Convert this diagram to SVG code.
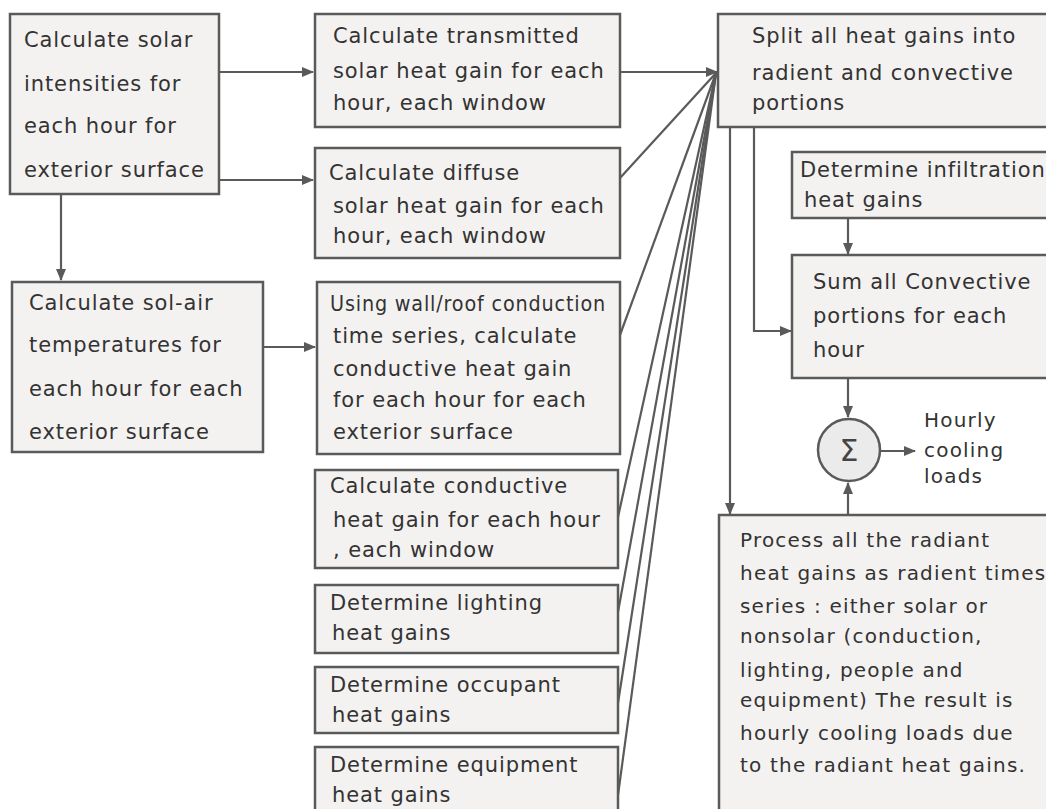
<svg xmlns="http://www.w3.org/2000/svg" width="1046" height="809" viewBox="0 0 1046 809">
<style>
.box{fill:#f4f2f1;stroke:#5a5a5a;stroke-width:2.5}
.t{font-family:"DejaVu Sans",sans-serif;font-size:21px;fill:#333333;letter-spacing:0.9px}
.s{font-size:20px;letter-spacing:1.2px}
.ln{stroke:#5a5a5a;stroke-width:2.2;fill:none}
</style>
<defs>
<marker id="ah" markerUnits="userSpaceOnUse" markerWidth="12" markerHeight="10" refX="11" refY="5" orient="auto">
<path d="M0,0 L12,5 L0,10 Z" fill="#5a5a5a"/>
</marker>
</defs>
<rect width="1046" height="809" fill="#ffffff"/>

<g id="connectors">
<line class="ln" x1="219" y1="72" x2="313" y2="72" marker-end="url(#ah)"/>
<line class="ln" x1="219" y1="180" x2="313" y2="180" marker-end="url(#ah)"/>
<line class="ln" x1="61" y1="194" x2="61" y2="280" marker-end="url(#ah)"/>
<line class="ln" x1="263" y1="347" x2="315" y2="347" marker-end="url(#ah)"/>
<line class="ln" x1="620" y1="72" x2="717" y2="72" marker-end="url(#ah)"/>
<line class="ln" x1="620" y1="178" x2="716" y2="73"/>
<line class="ln" x1="620" y1="335" x2="716" y2="73"/>
<line class="ln" x1="618" y1="517" x2="716" y2="73"/>
<line class="ln" x1="618" y1="612" x2="716" y2="73"/>
<line class="ln" x1="618" y1="703" x2="716" y2="73"/>
<line class="ln" x1="618" y1="795" x2="716" y2="73"/>
<line class="ln" x1="730" y1="127" x2="730" y2="514" marker-end="url(#ah)"/>
<polyline class="ln" points="754,127 754,331 791,331" marker-end="url(#ah)"/>
<line class="ln" x1="848" y1="218" x2="848" y2="254" marker-end="url(#ah)"/>
<line class="ln" x1="848" y1="378" x2="848" y2="417" marker-end="url(#ah)"/>
<line class="ln" x1="848" y1="515" x2="848" y2="483" marker-end="url(#ah)"/>
<line class="ln" x1="881" y1="451" x2="915" y2="451" marker-end="url(#ah)"/>
</g>

<g id="solar-intensities">
<rect class="box" x="10" y="14" width="209" height="180"/>
<text class="t" x="24" y="47">Calculate solar</text>
<text class="t" x="24" y="91">intensities for</text>
<text class="t" x="24" y="133">each hour for</text>
<text class="t" x="24" y="177">exterior surface</text>
</g>

<g id="sol-air">
<rect class="box" x="12" y="282" width="251" height="170"/>
<text class="t" x="29" y="310">Calculate sol-air</text>
<text class="t" x="29" y="352">temperatures for</text>
<text class="t" x="29" y="396">each hour for each</text>
<text class="t" x="29" y="439">exterior surface</text>
</g>

<g id="transmitted">
<rect class="box" x="315" y="14" width="305" height="113"/>
<text class="t" x="333" y="43">Calculate transmitted</text>
<text class="t" x="333" y="78">solar heat gain for each</text>
<text class="t" x="333" y="110">hour, each window</text>
</g>

<g id="diffuse">
<rect class="box" x="315" y="148" width="305" height="110"/>
<text class="t" x="329" y="180">Calculate diffuse</text>
<text class="t" x="333" y="213">solar heat gain for each</text>
<text class="t" x="333" y="243">hour, each window</text>
</g>

<g id="wall-roof">
<rect class="box" x="317" y="282" width="303" height="172"/>
<text class="t" x="330" y="311" textLength="276" lengthAdjust="spacingAndGlyphs">Using wall/roof conduction</text>
<text class="t" x="333" y="343">time series, calculate</text>
<text class="t" x="333" y="376">conductive heat gain</text>
<text class="t" x="333" y="407">for each hour for each</text>
<text class="t" x="333" y="439">exterior surface</text>
</g>

<g id="conductive-window">
<rect class="box" x="315" y="470" width="303" height="98"/>
<text class="t" x="330" y="493">Calculate conductive</text>
<text class="t" x="333" y="527">heat gain for each hour</text>
<text class="t" x="333" y="557">, each window</text>
</g>

<g id="lighting">
<rect class="box" x="315" y="585" width="303" height="68"/>
<text class="t" x="330" y="610">Determine lighting</text>
<text class="t" x="332" y="640">heat gains</text>
</g>

<g id="occupant">
<rect class="box" x="315" y="667" width="303" height="66"/>
<text class="t" x="330" y="692">Determine occupant</text>
<text class="t" x="332" y="722">heat gains</text>
</g>

<g id="equipment">
<rect class="box" x="315" y="747" width="303" height="70"/>
<text class="t" x="330" y="772">Determine equipment</text>
<text class="t" x="332" y="802">heat gains</text>
</g>

<g id="split">
<rect class="box" x="718" y="14" width="340" height="113"/>
<text class="t" x="752" y="43">Split all heat gains into</text>
<text class="t" x="752" y="80">radient and convective</text>
<text class="t" x="752" y="110">portions</text>
</g>

<g id="infiltration">
<rect class="box" x="792" y="152" width="260" height="66"/>
<text class="t" x="800" y="177">Determine infiltration</text>
<text class="t" x="804" y="207">heat gains</text>
</g>

<g id="sum-convective">
<rect class="box" x="792" y="255" width="260" height="123"/>
<text class="t" x="813" y="289">Sum all Convective</text>
<text class="t" x="813" y="323">portions for each</text>
<text class="t" x="813" y="357">hour</text>
</g>

<g id="sigma">
<circle cx="849" cy="450" r="31" fill="#ebebeb" stroke="#5a5a5a" stroke-width="2.5"/>
<text x="849" y="461" text-anchor="middle" font-family="DejaVu Sans, sans-serif" font-size="30" fill="#444">Σ</text>
</g>

<g id="hourly-label">
<text class="t s" x="924" y="427">Hourly</text>
<text class="t s" x="924" y="457">cooling</text>
<text class="t s" x="924" y="483">loads</text>
</g>

<g id="radiant">
<rect class="box" x="719" y="515" width="340" height="300"/>
<text class="t s" x="740" y="547">Process all the radiant</text>
<text class="t s" x="740" y="580">heat gains as radient times</text>
<text class="t s" x="740" y="613">series : either solar or</text>
<text class="t s" x="740" y="643">nonsolar (conduction,</text>
<text class="t s" x="740" y="677">lighting, people and</text>
<text class="t s" x="740" y="707">equipment) The result is</text>
<text class="t s" x="740" y="740">hourly cooling loads due</text>
<text class="t s" x="740" y="772">to the radiant heat gains.</text>
</g>
</svg>
